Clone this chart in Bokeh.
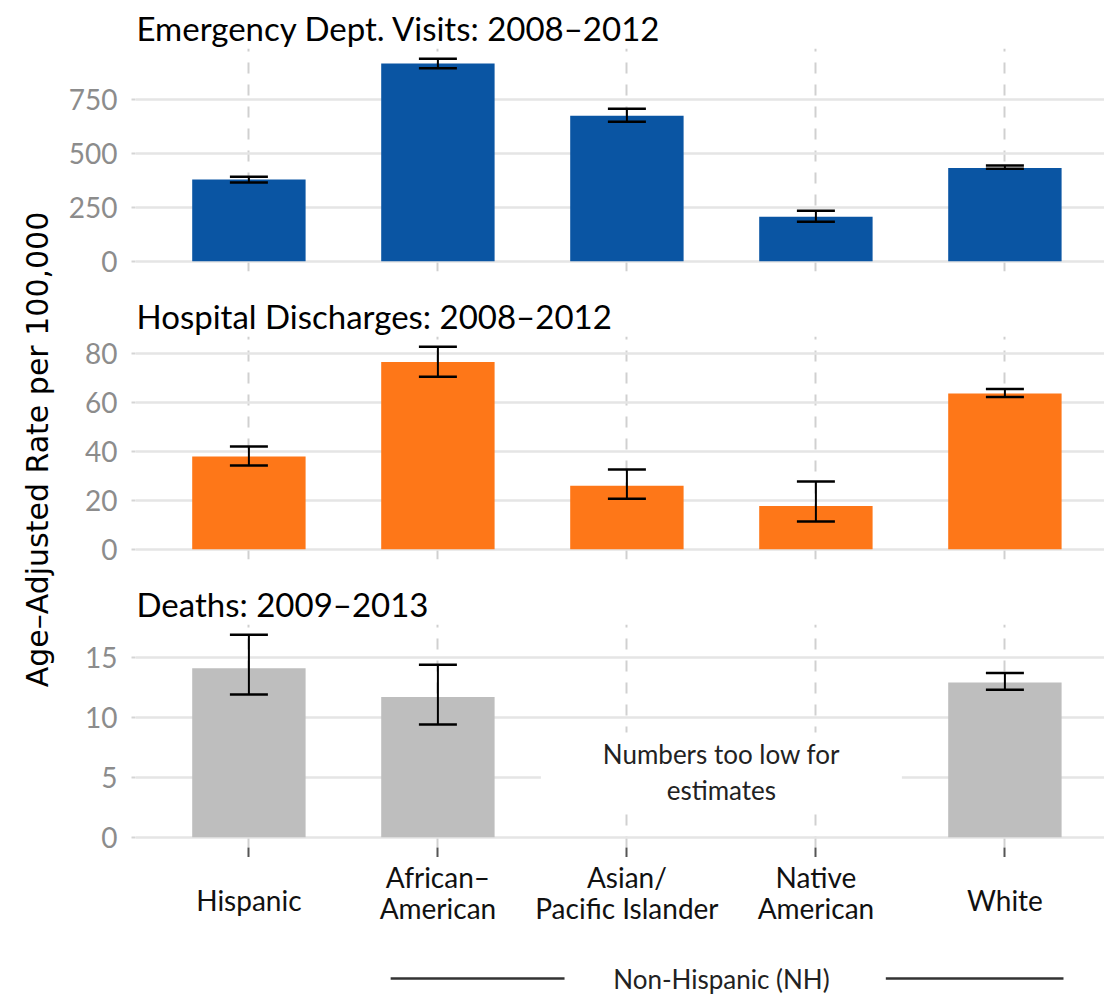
import numpy as np
from bokeh.plotting import figure
from bokeh.layouts import column, row
from bokeh.models import Range1d, FixedTicker, ColumnDataSource, Whisker, TeeHead
from bokeh.embed import file_html
from bokeh.resources import INLINE
from bokeh.core.properties import value

# ---------------- data ----------------
categories = ["Hispanic", "African-American", "Asian/Pacific Islander", "Native American", "White"]
category_labels = ["Hispanic", "African–\nAmerican", "Asian/\nPacific Islander", "Native\nAmerican", "White"]

panel_titles = ["Emergency Dept. Visits: 2008–2012",
                "Hospital Discharges: 2008–2012",
                "Deaths: 2009–2013"]

ed_rate = [378, 914, 673, 206, 432]
ed_low = [365, 892, 645, 183, 428]
ed_high = [391, 937, 705, 234, 443]

hd_rate = [37.9, 76.4, 26.0, 17.7, 63.6]
hd_low = [34.2, 70.4, 20.6, 11.4, 62.2]
hd_high = [42.0, 82.7, 32.6, 27.7, 65.4]

dt_rate = [14.1, 11.7, None, None, 12.9]
dt_low = [11.9, 9.4, None, None, 12.3]
dt_high = [16.9, 14.4, None, None, 13.7]

ed_ticks = [0, 250, 500, 750]
hd_ticks = [0, 20, 40, 60, 80]
dt_ticks = [0, 5, 10, 15]

y_label = "Age–Adjusted Rate per 100,000"
footer_label = "Non-Hispanic (NH)"
missing_note = "Numbers too low for\nestimates"

ed_color = "#0a55a3"
hd_color = "#fe7718"
dt_color = "#bebebe"

FONT = "Lato"
XR = Range1d(0.4, 5.527)
xs_all = list(range(1, len(categories) + 1))


def make_panel(title, rate, low, high, ticks, color, top_border, bottom_border, height,
               title_standoff=2, show_xticks=False):
    idx = [i for i, v in enumerate(rate) if v is not None]
    src = ColumnDataSource(dict(
        x=[i + 1 for i in idx],
        cat=[categories[i] for i in idx],
        top=[rate[i] for i in idx],
        low=[low[i] for i in idx],
        high=[high[i] for i in idx],
    ))
    ymax = max(src.data["high"])
    yr = Range1d(-0.05 * ymax, 1.05 * ymax)
    p = figure(width=1044, height=height, x_range=XR, y_range=yr,
               output_backend="svg", toolbar_location=None,
               min_border_left=75, min_border_right=0,
               min_border_top=top_border, min_border_bottom=bottom_border)
    p.outline_line_color = None
    p.background_fill_color = "white"
    p.border_fill_color = "white"

    p.title.text = title
    p.title.text_font = FONT
    p.title.text_font_size = "33px"
    p.title.text_font_style = "normal"
    p.title.text_color = "black"
    p.title.align = "left"
    p.title.offset = 1
    p.title.standoff = title_standoff

    # grids
    p.xgrid.ticker = FixedTicker(ticks=xs_all)
    p.xgrid.grid_line_color = "#d0d0d0"
    p.xgrid.grid_line_width = 2
    p.xgrid.grid_line_dash = "11 11"
    p.ygrid.ticker = FixedTicker(ticks=ticks)
    p.ygrid.grid_line_color = "#e5e5e5"
    p.ygrid.grid_line_width = 2.5

    # y axis
    p.yaxis.ticker = FixedTicker(ticks=ticks)
    p.yaxis.axis_line_color = None
    p.yaxis.major_tick_line_color = "#d5d5d5"
    p.yaxis.major_tick_line_width = 2
    p.yaxis.major_tick_out = 4
    p.yaxis.major_tick_in = 0
    p.yaxis.minor_tick_line_color = None
    p.yaxis.major_label_text_font = FONT
    p.yaxis.major_label_text_font_size = "28px"
    p.yaxis.major_label_text_color = "#8c8c8c"
    p.yaxis.major_label_standoff = 14

    # x axis
    if show_xticks:
        p.xaxis.ticker = FixedTicker(ticks=xs_all)
        p.xaxis.major_label_overrides = {x: "" for x in xs_all}
        p.xaxis.major_label_text_font_size = "0px"
        p.xaxis.major_label_standoff = 0
        p.xaxis.axis_line_color = None
        p.xaxis.major_tick_line_color = "#555555"
        p.xaxis.major_tick_line_width = 2
        p.xaxis.major_tick_out = 10
        p.xaxis.major_tick_in = 0
        p.xaxis.minor_tick_line_color = None
    else:
        p.xaxis.visible = False

    p.vbar(x="x", top="top", bottom=0, width=0.6, source=src,
           fill_color=color, line_color=None)
    w = Whisker(source=src, base="x", upper="high", lower="low",
                line_color="black", line_width=2,
                upper_head=TeeHead(size=38, line_color="black", line_width=2.5),
                lower_head=TeeHead(size=38, line_color="black", line_width=2.5))
    w.level = "annotation"
    p.add_layout(w)
    return p


f1 = make_panel(panel_titles[0], ed_rate, ed_low, ed_high, ed_ticks, ed_color, 48, 15, 286)
f2 = make_panel(panel_titles[1], hd_rate, hd_low, hd_high, hd_ticks, hd_color, 50, 15, 288)
f3 = make_panel(panel_titles[2], dt_rate, dt_low, dt_high, dt_ticks, dt_color, 50, 10, 283,
                show_xticks=True)

# note for missing estimates
f3.rect(x=[3.5], y=[5.5], width=1.91, height=6.5, fill_color="white", line_color=None)
f3.text(x=[3.5], y=[5.45], text=[missing_note], text_align="center", text_baseline="middle",
        text_font=value(FONT), text_font_size="26px", text_color="#222222",
        text_line_height=1.12)

# bottom strip with category labels and footer
fb = figure(width=1044, height=140, x_range=XR, y_range=Range1d(0, 140),
            output_backend="svg", toolbar_location=None,
            x_axis_location=None, y_axis_location=None,
            min_border_left=75, min_border_right=0, min_border_top=0, min_border_bottom=0)
fb.outline_line_color = None
fb.grid.visible = False
label_y = [98 + 7 * lab.count("\n") for lab in category_labels]
fb.text(x=xs_all, y=label_y, text=category_labels, text_align="center",
        text_baseline="middle", text_font=value(FONT), text_font_size="28px",
        text_color="#111111", text_line_height=0.93)
fb.text(x=[3.5], y=[19], text=[footer_label], text_align="center", text_baseline="middle",
        text_font=value(FONT), text_font_size="26px", text_color="#222222")
fb.segment(x0=[1.75, 4.37], x1=[2.67, 5.31], y0=[19, 19], y1=[19, 19],
           line_color="#333333", line_width=2.5)

# left strip with the shared y-axis title
lf = figure(width=60, height=997, x_range=Range1d(0, 60), y_range=Range1d(0, 997),
            output_backend="svg", toolbar_location=None,
            x_axis_location=None, y_axis_location=None, min_border=0)
lf.outline_line_color = None
lf.grid.visible = False
lf.text(x=[37], y=[548], text=[y_label], angle=np.pi / 2, text_align="center",
        text_baseline="middle", text_font=value("DejaVu Sans"), text_font_size="30px",
        text_color="black")

layout = row(lf, column(f1, f2, f3, fb))

open("out.html", "w").write(file_html(layout, INLINE))
